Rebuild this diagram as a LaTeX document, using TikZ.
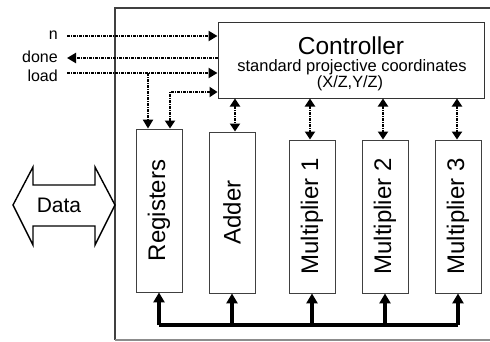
\documentclass[tikz,border=0pt]{standalone}
\usepackage{fontspec}
\setmainfont{Liberation Sans}
\usetikzlibrary{arrows.meta,calc}
\begin{document}
\begin{tikzpicture}[x=1pt,y=-1pt,
  unit/.style={draw=black!75,line width=0.9pt,minimum width=46pt,inner sep=0pt},
  ctrlbox/.style={draw=black!80,line width=1pt,minimum width=266pt,minimum height=76pt,inner sep=0pt},
  sig/.style={line width=2.2pt,dash pattern=on 3pt off 1pt on 1pt off 1pt},
  tip/.style={-{Triangle[width=10pt,length=9pt]}},
  dtip/.style={{Triangle[width=10pt,length=8pt]}-{Triangle[width=10pt,length=8pt]}},
  bus/.style={line width=4pt},
  lbl/.style={font=\fontsize{16}{16}\selectfont,anchor=east,inner sep=0pt},
  ulbl/.style={font=\fontsize{24}{24}\selectfont,rotate=90,inner sep=0pt},
  frame/.style={line width=1.3pt}]
\useasboundingbox (0,0) rectangle (490,341);
% frame (open at right)
\draw[frame,draw=black!75] (490,8) -- (115,8) -- (115,340);
\draw[frame,draw=black!45] (115,340) -- (490,340);
% controller
\node[ctrlbox] (ctrl) at (351,60) {};
\node[font=\fontsize{24.5}{24.5}\selectfont,inner sep=0pt] (ctitle) at (351,46) {Controller};
\node[font=\fontsize{16.5}{16.5}\selectfont,inner sep=0pt] (csub) at (352,67) {standard projective coordinates};
\node[font=\fontsize{16.3}{16.3}\selectfont,inner sep=0pt] (ccoord) at (350,83) {(X/Z,Y/Z)};
% units
\node[unit,minimum height=163pt] (reg) at (159,210.5) {};
\node[unit,minimum height=161pt] (add) at (232,212.5) {};
\node[unit,minimum height=153pt] (m1) at (312,216.5) {};
\node[unit,minimum height=153pt] (m2) at (385,216.5) {};
\node[unit,minimum height=153pt] (m3) at (458,216.5) {};
\node[ulbl] (treg) at (reg) {Registers};
\node[ulbl] (tadd) at (add) {Adder};
\node[ulbl] (tm1) at (m1) {Multiplier 1};
\node[ulbl] (tm2) at (m2) {Multiplier 2};
\node[ulbl] (tm3) at (m3) {Multiplier 3};
% signal labels
\node[lbl] (ln) at (58,35) {n};
\node[lbl] (ldone) at (58,57) {done};
\node[lbl] (lload) at (58,76) {load};
\coordinate (ns) at (67,36);
\coordinate (ds) at (67,58);
\coordinate (ls) at (67,73);
\coordinate (sp) at (148,73);
\coordinate (cr) at (170,92);
\draw[sig,tip] (ns) -- (ns -| ctrl.west);
\draw[sig,tip] (ds -| ctrl.west) -- (ds);
\draw[sig,tip] (ls) -- (ls -| ctrl.west);
\draw[sig,tip] (sp) -- (sp |- reg.north);
\draw[sig,dtip] (cr -| ctrl.west) -- (cr) -- (cr |- reg.north);
% controller <-> units
\coordinate (xa) at (235,0);
\coordinate (x1) at (310,0);
\coordinate (x2) at (383,0);
\coordinate (x3) at (457,0);
\draw[sig,dtip] (xa |- ctrl.south) -- (xa |- add.north);
\draw[sig,dtip] (x1 |- ctrl.south) -- (x1 |- m1.north);
\draw[sig,dtip] (x2 |- ctrl.south) -- (x2 |- m2.north);
\draw[sig,dtip] (x3 |- ctrl.south) -- (x3 |- m3.north);
% bus
\coordinate (bl) at (160,325);
\coordinate (br) at (458,325);
\draw[bus] (bl -| reg.south) -- (br -| m3.south);
\foreach \u in {reg,add,m1,m2,m3}{
  \draw[bus,-{Triangle[width=11pt,length=10pt]}] (bl -| \u.south) -- (\u.south);
}
% data arrow
\draw[line width=1.4pt,fill=white] (13,205) -- (33,167) -- (33,185) -- (95,185) -- (95,167) -- (115,205)
  -- (95,245) -- (95,226) -- (33,226) -- (33,245) -- cycle;
\node[font=\fontsize{21}{21}\selectfont,inner sep=0pt] (data) at (59,205) {Data};
\end{tikzpicture}
\end{document}
